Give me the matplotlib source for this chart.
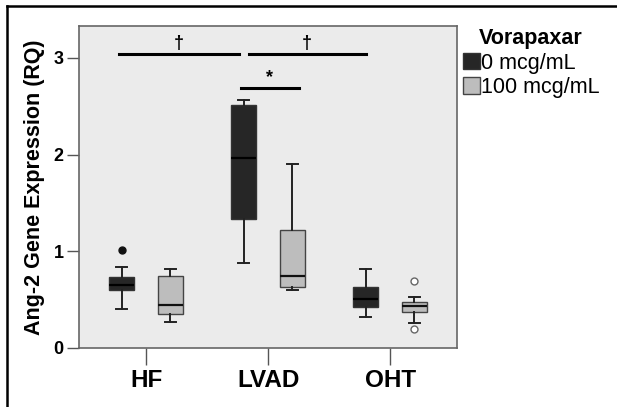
import matplotlib.pyplot as plt
from matplotlib.lines import Line2D
from matplotlib.patches import Patch

plt.rcParams['font.family'] = ['Liberation Sans', 'DejaVu Sans']

groups = ['HF', 'LVAD', 'OHT']
doses = ['0 mcg/mL', '100 mcg/mL']

# box statistics: [HF, LVAD, OHT]
dose0_whislo = [0.40, 0.88, 0.32]
dose0_q1 = [0.60, 1.33, 0.42]
dose0_med = [0.65, 1.97, 0.51]
dose0_q3 = [0.73, 2.51, 0.63]
dose0_whishi = [0.84, 2.57, 0.82]
dose0_fliers = [[1.01], [], []]

dose100_whislo = [0.27, 0.60, 0.255]
dose100_q1 = [0.35, 0.63, 0.375]
dose100_med = [0.44, 0.74, 0.43]
dose100_q3 = [0.74, 1.22, 0.48]
dose100_whishi = [0.82, 1.90, 0.53]
dose100_fliers = [[], [], [0.69, 0.20]]

# significance bars: (left box, right box, height, label)
# boxes numbered 0..5 as HF0, HF100, LVAD0, LVAD100, OHT0, OHT100
comparisons = [(0, 2, 3.04, '†'), (2, 4, 3.04, '†'), (2, 3, 2.69, '*')]

fig = plt.figure(figsize=(6.17, 4.07), dpi=100)
ax = fig.add_axes([0.128, 0.145, 0.613, 0.791])
ax.set_facecolor('#ebebeb')

off = 0.2
width = 0.2
dark = '#262626'
light = '#bdbdbd'


def make_stats(lo, q1, med, q3, hi, fl):
    return [dict(whislo=lo[i], q1=q1[i], med=med[i], q3=q3[i], whishi=hi[i], fliers=fl[i])
            for i in range(len(groups))]


pos0 = [i - off for i in range(len(groups))]
pos100 = [i + off for i in range(len(groups))]

ax.bxp(make_stats(dose0_whislo, dose0_q1, dose0_med, dose0_q3, dose0_whishi, dose0_fliers),
       positions=pos0, widths=width, patch_artist=True, capwidths=0.09,
       boxprops=dict(facecolor=dark, edgecolor='#333333', linewidth=1.0),
       medianprops=dict(color='black', linewidth=1.6),
       whiskerprops=dict(color='#222222', linewidth=1.4),
       capprops=dict(color='#222222', linewidth=1.4),
       flierprops=dict(marker='o', markerfacecolor='#111111', markeredgecolor='#111111', markersize=5))

ax.bxp(make_stats(dose100_whislo, dose100_q1, dose100_med, dose100_q3, dose100_whishi, dose100_fliers),
       positions=pos100, widths=width, patch_artist=True, capwidths=0.09,
       boxprops=dict(facecolor=light, edgecolor='#444444', linewidth=1.0),
       medianprops=dict(color='#111111', linewidth=1.6),
       whiskerprops=dict(color='#222222', linewidth=1.4),
       capprops=dict(color='#222222', linewidth=1.4),
       flierprops=dict(marker='o', markerfacecolor='white', markeredgecolor='#666666', markersize=5))

allpos = sorted(pos0 + pos100)
for a, b, h, lab in comparisons:
    x1, x2 = allpos[a] - 0.02, allpos[b] - 0.04
    if lab == '*':
        x1, x2 = allpos[a] - 0.02, allpos[b] + 0.05
    elif a == 2:
        x1, x2 = allpos[a] + 0.04, allpos[b]
    ax.plot([x1, x2], [h, h], color='black', linewidth=2.2)
    ax.text((x1 + x2) / 2, h + 0.02, lab, ha='center', va='bottom', fontsize=13, fontweight='bold')

ax.set_xlim(-0.55, 2.55)
ax.set_ylim(0, 3.33)
ax.set_yticks([0, 1, 2, 3])
ax.set_xticks(range(len(groups)))
ax.set_xticklabels(groups)
ax.tick_params(axis='y', length=9, width=1, color='#555555', labelsize=13, pad=2)
ax.tick_params(axis='x', length=12, width=1, color='#555555', labelsize=17.5, pad=3)
for t in ax.get_xticklabels() + ax.get_yticklabels():
    t.set_fontweight('bold')
for s in ax.spines.values():
    s.set_color('#666666')
    s.set_linewidth(1.2)
ax.set_ylabel('Ang-2 Gene Expression (RQ)', fontsize=15.5, fontweight='bold', labelpad=6)

handles = [Patch(facecolor=dark, edgecolor='#333333'), Patch(facecolor=light, edgecolor='#444444')]
leg = fig.legend(handles, doses, title='Vorapaxar', loc='upper left',
                 bbox_to_anchor=(0.750, 0.93), frameon=False, fontsize=15.5,
                 title_fontproperties={'weight': 'bold', 'size': 15.5},
                 handlelength=0.8, handleheight=0.8, handletextpad=0.05,
                 labelspacing=0.15, borderpad=0, borderaxespad=0)

# outer frame (top and left edges)
fig.add_artist(Line2D([0.011, 0.011], [0, 0.985], color='black', linewidth=1.8, transform=fig.transFigure))
fig.add_artist(Line2D([0.011, 1.0], [0.985, 0.985], color='black', linewidth=1.8, transform=fig.transFigure))

fig.savefig('out.png', dpi=100)
